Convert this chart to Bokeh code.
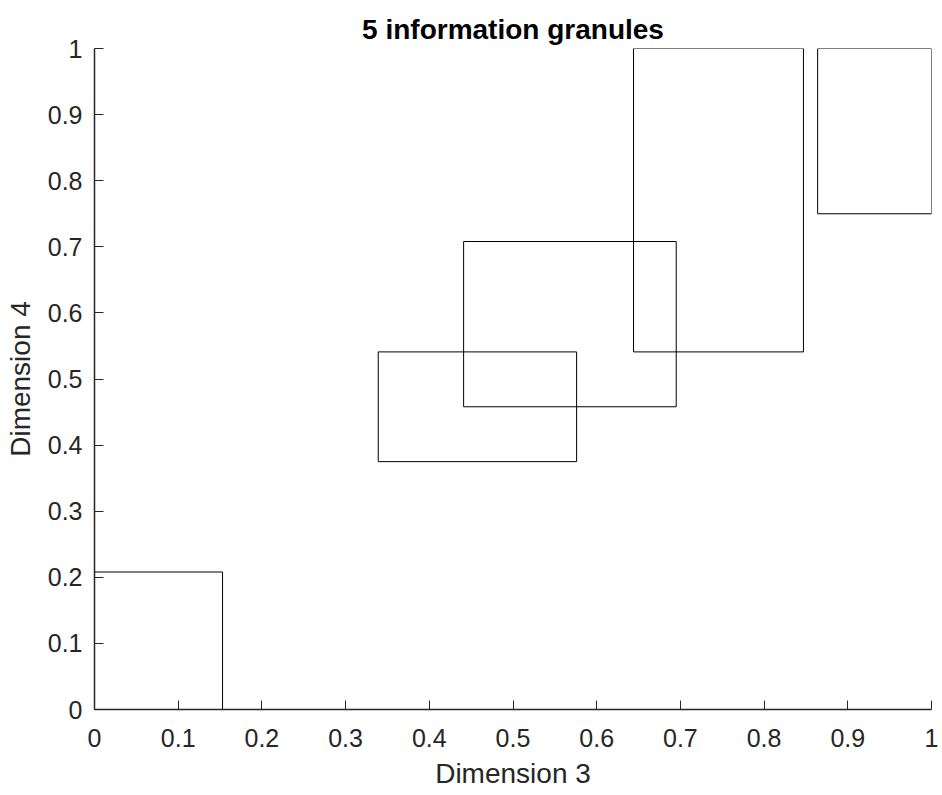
from bokeh.plotting import figure
from bokeh.models import Range1d, FixedTicker
from bokeh.embed import file_html
from bokeh.resources import INLINE

# Granule bounds (Dimension 3 = x, Dimension 4 = y)
x_low = [0.0, 0.339, 0.441, 0.644, 0.864]
x_high = [0.153, 0.576, 0.695, 0.847, 1.0]
y_low = [0.0, 0.375, 0.458, 0.541, 0.750]
y_high = [0.208, 0.541, 0.708, 1.0, 1.0]

ticks = [0, 0.1, 0.2, 0.3, 0.4, 0.5, 0.6, 0.7, 0.8, 0.9, 1]
tick_labels = ["0", "0.1", "0.2", "0.3", "0.4", "0.5", "0.6", "0.7", "0.8", "0.9", "1"]

FONT = "Liberation Sans"
GRAY = "#262626"

p = figure(frame_width=837, frame_height=661, output_backend="svg", toolbar_location=None,
           x_range=Range1d(0, 1), y_range=Range1d(0, 1),
           min_border_left=94, min_border_right=10, min_border_top=48, min_border_bottom=84,
           title="5 information granules")
p.title.align = "center"
p.title.text_font = FONT
p.title.text_font_size = "28px"
p.title.text_font_style = "bold"
p.title.text_color = "#000000"
p.title.standoff = 8

p.quad(left=x_low, right=x_high, bottom=y_low, top=y_high,
       fill_color=None, line_color="#000000", line_width=1)

p.outline_line_color = None
p.xgrid.visible = False
p.ygrid.visible = False

overrides = {t: l for t, l in zip(ticks, tick_labels)}
for ax, lab in ((p.xaxis[0], "Dimension 3"), (p.yaxis[0], "Dimension 4")):
    ax.ticker = FixedTicker(ticks=ticks)
    ax.major_label_overrides = overrides
    ax.axis_label = lab
    ax.axis_label_text_font = FONT
    ax.axis_label_text_font_size = "28px"
    ax.axis_label_text_font_style = "normal"
    ax.axis_label_text_color = GRAY
    ax.major_label_text_font = FONT
    ax.major_label_text_font_size = "25px"
    ax.major_label_text_color = GRAY
    ax.axis_line_color = GRAY
    ax.axis_line_width = 1.5
    ax.major_tick_line_color = GRAY
    ax.major_tick_in = 9
    ax.major_tick_out = 0
    ax.minor_tick_line_color = None
p.xaxis[0].major_label_standoff = 19
p.yaxis[0].major_label_standoff = 12
p.xaxis[0].axis_label_standoff = 8
p.yaxis[0].axis_label_standoff = 9

open("out.html", "w").write(file_html(p, INLINE))
